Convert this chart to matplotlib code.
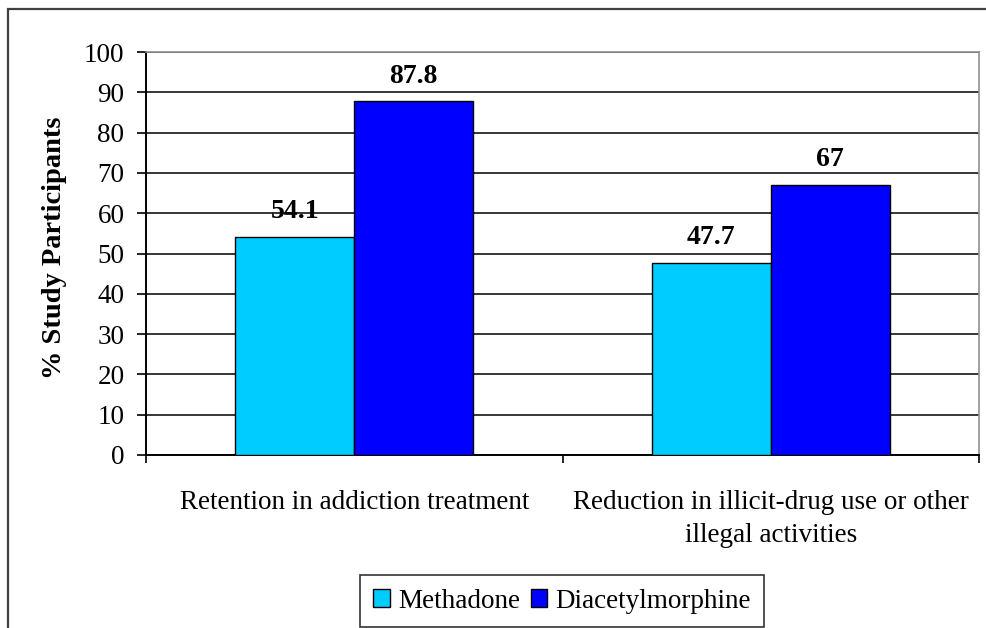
import matplotlib
matplotlib.use("Agg")
import matplotlib.pyplot as plt
from matplotlib.patches import Rectangle
import numpy as np

categories = ["Retention in addiction treatment",
              "Reduction in illicit-drug use or other\nillegal activities"]
series_names = ["Methadone", "Diacetylmorphine"]
methadone = [54.1, 47.7]
diacetylmorphine = [87.8, 67.0]
value_labels = [["54.1", "47.7"], ["87.8", "67"]]
yticks = [0, 10, 20, 30, 40, 50, 60, 70, 80, 90, 100]
colors = ["#00CCFF", "#0000FF"]

plt.rcParams["font.family"] = ["Liberation Serif", "DejaVu Serif"]
FS = 19.5

W, H = 986, 628
fig = plt.figure(figsize=(W / 100, H / 100), dpi=100)

# outer chart frame
fig.patches.append(Rectangle((8 / W, -0.1), 1.2, (H - 9) / H + 0.1,
                             transform=fig.transFigure, fill=False,
                             edgecolor="#404040", linewidth=1.6))

ax = fig.add_axes([146 / W, (H - 455) / H, (979 - 146) / W, (455 - 52) / H])

x = np.arange(len(categories))
bw = 1 / 3.5
for i, (vals, c) in enumerate(zip([methadone, diacetylmorphine], colors)):
    pos = x + (i - 0.5) * bw
    ax.bar(pos, vals, width=bw, color=c, edgecolor="black", linewidth=1.0,
           zorder=3, label=series_names[i])
    for px, v, lab in zip(pos, vals, value_labels[i]):
        ax.annotate(lab, (px, v), xytext=(0, 18), textcoords="offset points",
                    ha="center", va="center", fontsize=20, fontweight="bold")

ax.set_xlim(-0.5, 1.5)
ax.set_ylim(0, 100)
ax.set_yticks(yticks)
ax.set_yticklabels([str(t) for t in yticks], fontsize=FS)
ax.yaxis.grid(True, color="black", linewidth=1.1, zorder=0)
ax.set_axisbelow(True)

ax.set_xticks([-0.5, 0.5, 1.5])
ax.set_xticklabels([])
ax.set_xticks(x, minor=True)
ax.set_xticklabels(categories, minor=True, fontsize=FS, linespacing=1.45)
ax.tick_params(axis="x", which="minor", length=0, pad=25)
ax.tick_params(axis="x", which="major", direction="out", length=6, width=1.2)
ax.tick_params(axis="y", direction="out", length=6.5, width=1.2, pad=9)

for s in ["top", "right"]:
    ax.spines[s].set_color("#909090")
    ax.spines[s].set_linewidth(1.2)
for s in ["left", "bottom"]:
    ax.spines[s].set_color("black")
    ax.spines[s].set_linewidth(1.4)

ax.set_ylabel("% Study Participants", fontsize=20.5, fontweight="bold")
ax.yaxis.set_label_coords(67 / W, (H - 248) / H, transform=fig.transFigure)

leg = fig.legend(loc="center", bbox_to_anchor=(562 / W, (H - 601) / H),
                 ncol=2, fontsize=FS, frameon=True, fancybox=False,
                 edgecolor="black", handlelength=0.6, handleheight=0.6,
                 handletextpad=0.3, columnspacing=0.4, borderpad=0.5,
                 borderaxespad=0)
leg.get_frame().set_linewidth(1.2)

fig.savefig("out.png", dpi=100, facecolor="white")
